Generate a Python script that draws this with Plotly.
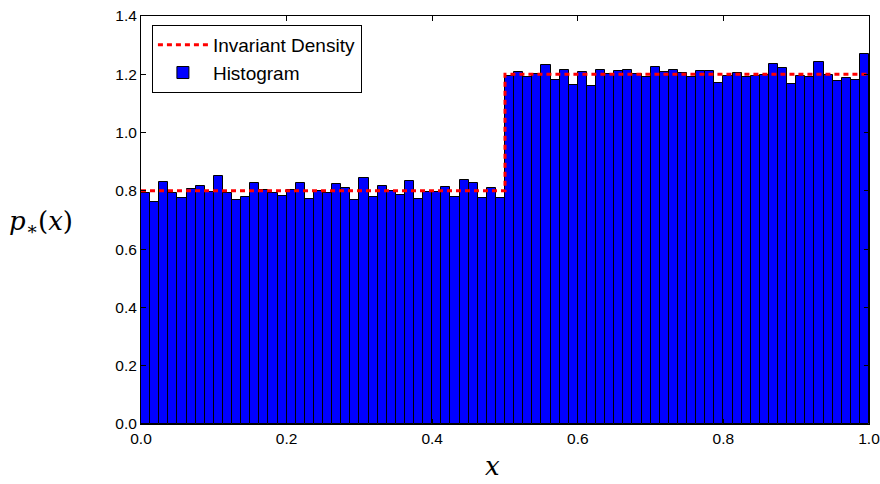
import numpy as np
import plotly.graph_objects as go

n_bins = 80
bin_edges = np.linspace(0.0, 1.0, n_bins + 1)
bin_centers = (bin_edges[:-1] + bin_edges[1:]) / 2
bin_width = bin_edges[1] - bin_edges[0]

hist_values = [
    0.792, 0.763, 0.829, 0.793, 0.777, 0.808, 0.817, 0.797, 0.850, 0.792,
    0.770, 0.779, 0.826, 0.803, 0.793, 0.782, 0.803, 0.828, 0.772, 0.801,
    0.793, 0.825, 0.809, 0.768, 0.843, 0.778, 0.816, 0.799, 0.786, 0.833,
    0.771, 0.797, 0.797, 0.814, 0.779, 0.836, 0.827, 0.777, 0.809, 0.777,
    1.194, 1.207, 1.190, 1.201, 1.232, 1.179, 1.214, 1.163, 1.209, 1.160,
    1.214, 1.201, 1.210, 1.214, 1.201, 1.192, 1.226, 1.207, 1.215, 1.203,
    1.190, 1.212, 1.211, 1.169, 1.193, 1.203, 1.190, 1.193, 1.199, 1.235,
    1.221, 1.168, 1.193, 1.190, 1.242, 1.197, 1.178, 1.186, 1.179, 1.270,
]

density_x = [0.0, 0.5, 0.5, 1.0]
density_y = [0.8, 0.8, 1.2, 1.2]

y_ticks = [0.0, 0.2, 0.4, 0.6, 0.8, 1.0, 1.2, 1.4]
x_ticks = [0.0, 0.2, 0.4, 0.6, 0.8, 1.0]

fig = go.Figure()
fig.add_trace(go.Bar(
    x=bin_centers, y=hist_values, width=bin_width,
    marker=dict(color="#0000ff", line=dict(color="black", width=1)),
    name="Histogram", legendrank=2, legendgroup="b",
))
fig.add_trace(go.Scatter(
    x=density_x, y=density_y, mode="lines",
    line=dict(color="#ff0000", width=3, dash="5px,4px"),
    name="Invariant Density", legendrank=1, legendgroup="a",
))

axis_common = dict(
    showline=True, linecolor="black", linewidth=1, mirror="allticks",
    ticks="inside", ticklen=5, tickcolor="black", tickwidth=1,
    showgrid=False, zeroline=False,
    tickfont=dict(family="Liberation Sans, Arial", size=15.5, color="black"),
    tickformat=".1f", ticklabeloverflow="allow",
)
fig.update_xaxes(range=[0, 1], tickvals=x_ticks, **axis_common)
fig.update_yaxes(range=[0, 1.4], tickvals=y_ticks, **axis_common)

fig.update_layout(
    width=880, height=484,
    margin=dict(l=141, r=11, t=16, b=60, autoexpand=False),
    plot_bgcolor="white", paper_bgcolor="white",
    bargap=0,
    showlegend=True,
    legend=dict(
        x=0.015, y=0.978, xanchor="left", yanchor="top",
        bordercolor="black", borderwidth=1, bgcolor="white",
        font=dict(family="Liberation Sans, Arial", size=19, color="black"),
        traceorder="grouped", tracegroupgap=0, itemwidth=50,
    ),
    annotations=[
        dict(text="<i>p</i><sub>∗</sub>(<i>x</i>)", xref="paper", yref="paper",
             x=(41 - 141) / 728, y=(424 - 222) / 408, showarrow=False,
             xanchor="center", yanchor="middle",
             font=dict(family="DejaVu Serif", size=26, color="black")),
        dict(text="<i>x</i>", xref="paper", yref="paper",
             x=(492 - 141) / 728, y=(424 - 483) / 408, showarrow=False,
             xanchor="center", yanchor="bottom",
             font=dict(family="DejaVu Serif", size=26, color="black")),
    ],
)

fig.write_html("out.html")
